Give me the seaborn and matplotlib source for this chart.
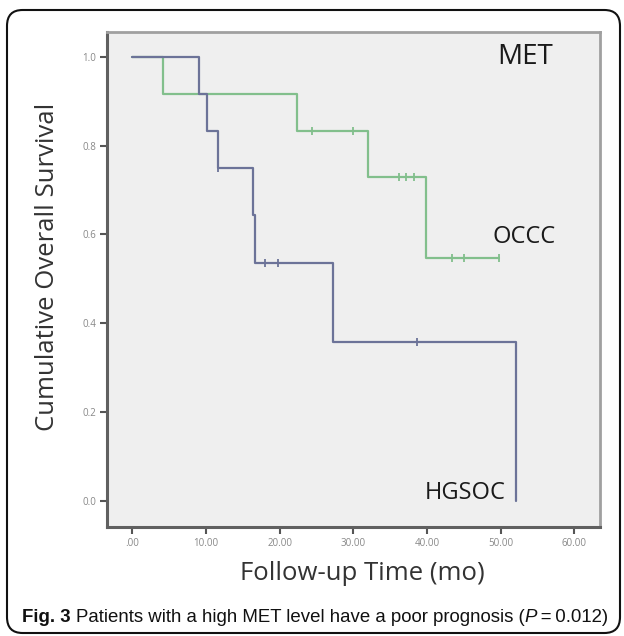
import numpy as np
import pandas as pd
import matplotlib
matplotlib.use('Agg')
import matplotlib.pyplot as plt
from matplotlib.patches import FancyBboxPatch
import seaborn as sns

# step curves (time in months, cumulative survival)
occc_time = [0, 4.2, 22.4, 32.0, 39.9, 49.7]
occc_surv = [1.0, 0.917, 0.833, 0.729, 0.547, 0.547]
occc_cens_time = [24.4, 30.0, 36.2, 37.1, 38.2, 43.4, 45.0, 49.7]
occc_cens_surv = [0.833, 0.833, 0.729, 0.729, 0.729, 0.547, 0.547, 0.547]

hgsoc_time = [0, 9.0, 10.1, 11.6, 16.4, 16.7, 27.2, 52.1]
hgsoc_surv = [1.0, 0.917, 0.833, 0.75, 0.643, 0.536, 0.357, 0.0]
hgsoc_cens_time = [11.6, 18.0, 19.7, 38.6]
hgsoc_cens_surv = [0.75, 0.536, 0.536, 0.357]

x_ticks = [0, 10, 20, 30, 40, 50, 60]
x_labels = ['.00', '10.00', '20.00', '30.00', '40.00', '50.00', '60.00']
y_ticks = [0.0, 0.2, 0.4, 0.6, 0.8, 1.0]
y_labels = ['0.0', '0.2', '0.4', '0.6', '0.8', '1.0']

green = '#82bf8c'
blue = '#6c7398'

curves = pd.concat([
    pd.DataFrame({'time': occc_time, 'surv': occc_surv, 'group': 'OCCC'}),
    pd.DataFrame({'time': hgsoc_time, 'surv': hgsoc_surv, 'group': 'HGSOC'}),
])
cens = pd.concat([
    pd.DataFrame({'time': occc_cens_time, 'surv': occc_cens_surv, 'group': 'OCCC'}),
    pd.DataFrame({'time': hgsoc_cens_time, 'surv': hgsoc_cens_surv, 'group': 'HGSOC'}),
])

sns.set_style('white')
plt.rcParams['font.family'] = ['Open Sans', 'DejaVu Sans']

fig = plt.figure(figsize=(6.24, 6.36), dpi=100)
ax = fig.add_axes([0.172, 0.172, 0.790, 0.778])
ax.set_facecolor('#efefef')

pal = {'OCCC': green, 'HGSOC': blue}
sns.lineplot(data=curves, x='time', y='surv', hue='group', palette=pal,
             estimator=None, sort=False, drawstyle='steps-post',
             linewidth=1.6, legend=False, ax=ax)
sns.scatterplot(data=cens, x='time', y='surv', hue='group', palette=pal,
                marker='|', s=30, linewidth=1.3, legend=False, ax=ax)

ax.set_xlim(-3.4, 63.5)
ax.set_ylim(-0.058, 1.056)
ax.set_xticks(x_ticks)
ax.set_xticklabels(x_labels)
ax.set_yticks(y_ticks)
ax.set_yticklabels(y_labels)
ax.tick_params(axis='both', direction='out', length=5, width=1.5,
               color='#555555', labelsize=7, labelcolor='#888888', pad=3,
               left=True, bottom=True)
ax.set_xlabel('')
ax.set_ylabel('')
for side in ['left', 'bottom']:
    ax.spines[side].set_color('#606060')
    ax.spines[side].set_linewidth(2.2)
for side in ['top', 'right']:
    ax.spines[side].set_color('#a0a0a0')
    ax.spines[side].set_linewidth(2.0)

ax.text(53.3, 1.0, 'MET', fontsize=20, ha='center', va='center', color='#1a1a1a')
ax.text(53.1, 0.595, 'OCCC', fontsize=17, ha='center', va='center', color='#1a1a1a')
ax.text(45.2, 0.018, 'HGSOC', fontsize=17, ha='center', va='center', color='#1a1a1a')

fig.text(48 / 624, 1 - 267 / 636, 'Cumulative Overall Survival', rotation=90,
         fontsize=18.5, ha='center', va='center', color='#333333')
fig.text(362 / 624, 1 - 574 / 636, 'Follow-up Time (mo)', fontsize=18.5,
         ha='center', va='center', color='#333333')

# caption, fitted to the width seen in the reference
cap_fam = ['Liberation Sans', 'DejaVu Sans']
cap_y = 1 - 618 / 636
parts = [('Fig. 3 ', 'bold', 'normal'),
         ('Patients with a high MET level have a poor prognosis (', 'normal', 'normal'),
         ('P', 'normal', 'italic'),
         ('\u2009=\u20090.012)', 'normal', 'normal')]


def draw_caption(size):
    items = []
    x = 22
    for s, w, st in parts:
        t = fig.text(x / 624, cap_y, s, fontsize=size, fontweight=w, fontstyle=st,
                     family=cap_fam, ha='left', va='center', color='#111111')
        fig.canvas.draw()
        x = t.get_window_extent().x1
        items.append(t)
    return items, x


items, right = draw_caption(12)
for t in items:
    t.remove()
size = 12 * (611 - 22) / (right - 22)
draw_caption(size)

border = FancyBboxPatch((7 / 624, 3 / 636), 613 / 624, 623 / 636,
                        boxstyle='round,pad=0,rounding_size=0.025',
                        transform=fig.transFigure, fill=False,
                        edgecolor='#111111', linewidth=1.5)
fig.patches.append(border)

fig.savefig('out.png', dpi=100)
